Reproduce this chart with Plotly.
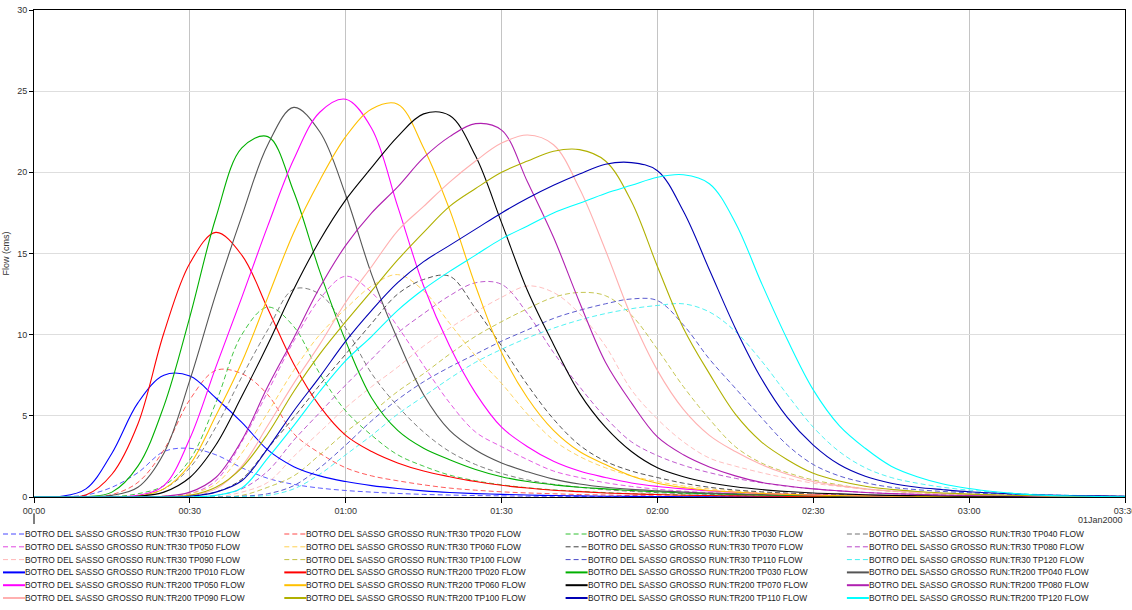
import pandas as pd
import plotly.graph_objects as go

# Time axis: 5-minute steps from 00:00 to 03:30 on 01 Jan 2000
times = pd.date_range("2000-01-01 00:00", periods=43, freq="5min")

storms = ["TP010", "TP020", "TP030", "TP040", "TP050", "TP060",
          "TP070", "TP080", "TP090", "TP100", "TP110", "TP120"]

# Flow (cms), return period 30 years
tr30_tp010 = [0, 0.02, 0.12, 0.6, 1.5, 2.8, 3.0, 2.6, 1.8, 1.15, 0.78, 0.55, 0.4, 0.3, 0.22, 0.16, 0.12, 0.09, 0.07, 0.05,
              0.04, 0.03, 0.02, 0.02, 0.01, 0.01, 0, 0, 0, 0, 0, 0, 0, 0, 0, 0, 0, 0, 0, 0, 0, 0, 0]
tr30_tp020 = [0, 0, 0, 0.15, 0.9, 2.9, 6.0, 7.8, 7.6, 6.3, 3.9, 2.7, 1.8, 1.3, 1.0, 0.75, 0.55, 0.42, 0.32, 0.25,
              0.2, 0.15, 0.12, 0.09, 0.07, 0.05, 0.04, 0.03, 0.02, 0.02, 0.01, 0.01, 0, 0, 0, 0, 0, 0, 0, 0, 0, 0, 0]
tr30_tp030 = [0, 0, 0, 0.02, 0.2, 0.7, 2.3, 5.8, 10.0, 11.7, 10.5, 7.6, 5.3, 3.8, 2.6, 1.9, 1.35, 1.0, 0.75, 0.57,
              0.44, 0.35, 0.27, 0.21, 0.17, 0.13, 0.1, 0.08, 0.06, 0.05, 0.04, 0.03, 0.02, 0.02, 0.01, 0, 0, 0, 0, 0, 0, 0, 0]
tr30_tp040 = [0, 0, 0, 0, 0.05, 0.5, 1.8, 4.3, 7.4, 10.3, 12.8, 12.5, 10.4, 7.6, 5.6, 4.0, 2.8, 2.0, 1.45, 1.05,
              0.78, 0.6, 0.45, 0.35, 0.27, 0.21, 0.16, 0.12, 0.1, 0.08, 0.06, 0.05, 0.04, 0.03, 0.02, 0.02, 0.01, 0, 0, 0, 0, 0, 0]
tr30_tp050 = [0, 0, 0, 0, 0, 0.05, 0.2, 1.0, 3.4, 6.5, 9.6, 12.2, 13.6, 12.6, 10.5, 8.1, 5.8, 4.0, 3.1, 2.3,
              1.6, 1.2, 0.88, 0.65, 0.48, 0.36, 0.27, 0.2, 0.15, 0.11, 0.09, 0.07, 0.05, 0.04, 0.03, 0.02, 0.02, 0.01, 0, 0, 0, 0, 0]
tr30_tp060 = [0, 0, 0, 0, 0, 0.05, 0.2, 0.8, 2.7, 5.2, 7.8, 10.0, 11.6, 13.0, 13.7, 12.7, 10.7, 8.7, 7.0, 5.1,
              3.5, 2.5, 1.8, 1.3, 0.95, 0.68, 0.5, 0.37, 0.27, 0.2, 0.15, 0.11, 0.09, 0.07, 0.05, 0.04, 0.03, 0.02, 0.02, 0.01, 0, 0, 0]
tr30_tp070 = [0, 0, 0, 0, 0, 0, 0.1, 0.3, 1.1, 3.0, 4.9, 6.9, 8.8, 10.7, 12.5, 13.4, 13.6, 11.6, 9.3, 6.9,
              4.8, 3.2, 2.2, 1.6, 1.2, 0.85, 0.6, 0.43, 0.32, 0.24, 0.18, 0.13, 0.1, 0.07, 0.05, 0.04, 0.03, 0.02, 0.02, 0.01, 0.01, 0, 0]
tr30_tp080 = [0, 0, 0, 0, 0, 0, 0, 0.1, 0.5, 1.6, 3.5, 5.2, 6.9, 8.5, 10.1, 11.3, 12.4, 13.2, 13.1, 11.3,
              8.9, 6.8, 4.9, 3.4, 2.55, 1.95, 1.5, 1.15, 0.88, 0.66, 0.5, 0.38, 0.28, 0.21, 0.16, 0.12, 0.09, 0.07, 0.05, 0.04, 0.03, 0.02, 0.02]
tr30_tp090 = [0, 0, 0, 0, 0, 0, 0, 0, 0.3, 0.9, 2.5, 4.0, 5.5, 6.8, 8.0, 9.3, 10.4, 11.4, 12.3, 13.0,
              12.6, 11.3, 9.3, 6.6, 4.8, 3.4, 2.4, 1.9, 1.5, 1.15, 0.85, 0.65, 0.48, 0.36, 0.27, 0.2, 0.15, 0.11, 0.09, 0.07, 0.05, 0.04, 0.03]
tr30_tp100 = [0, 0, 0, 0, 0, 0, 0, 0, 0.1, 0.6, 1.3, 2.6, 4.0, 5.2, 6.5, 7.6, 8.8, 9.9, 10.8, 11.6,
              12.3, 12.6, 12.4, 11.2, 9.1, 6.8, 4.8, 3.1, 2.1, 1.5, 1.05, 0.75, 0.5, 0.36, 0.26, 0.19, 0.14, 0.1, 0.07, 0.05, 0.04, 0.03, 0.02]
tr30_tp110 = [0, 0, 0, 0, 0, 0, 0, 0, 0.05, 0.2, 0.7, 1.8, 3.2, 4.7, 6.0, 7.1, 8.0, 8.8, 9.6, 10.3,
              11.0, 11.5, 11.9, 12.2, 12.1, 10.6, 8.5, 6.7, 4.9, 3.2, 2.0, 1.3, 0.88, 0.6, 0.45, 0.34, 0.26, 0.19, 0.14, 0.1, 0.08, 0.06, 0.05]
tr30_tp120 = [0, 0, 0, 0, 0, 0, 0, 0, 0.03, 0.1, 0.5, 1.4, 2.6, 3.8, 5.1, 6.2, 7.3, 8.3, 9.1, 9.8,
              10.4, 10.9, 11.3, 11.6, 11.8, 11.9, 11.4, 10.2, 8.4, 6.3, 4.3, 2.8, 1.8, 1.2, 0.85, 0.6, 0.42, 0.3, 0.2, 0.14, 0.1, 0.07, 0.05]

# Flow (cms), return period 200 years
tr200_tp010 = [0, 0.03, 0.5, 2.7, 5.8, 7.5, 7.45, 6.1, 4.6, 2.9, 1.87, 1.3, 0.95, 0.7, 0.52, 0.38, 0.28, 0.21, 0.16, 0.12,
               0.09, 0.07, 0.05, 0.04, 0.03, 0.02, 0.02, 0.01, 0.01, 0.01, 0, 0, 0, 0, 0, 0, 0, 0, 0, 0, 0, 0, 0]
tr200_tp020 = [0, 0, 0.12, 1.4, 4.5, 10.1, 14.4, 16.3, 14.9, 11.6, 8.2, 5.6, 3.8, 2.8, 2.1, 1.6, 1.25, 0.95, 0.72, 0.55,
               0.42, 0.33, 0.25, 0.19, 0.15, 0.11, 0.09, 0.07, 0.05, 0.04, 0.03, 0.02, 0.02, 0.01, 0.01, 0, 0, 0, 0, 0, 0, 0, 0]
tr200_tp030 = [0, 0, 0.02, 0.3, 1.9, 5.6, 11.1, 17.2, 21.5, 22.2, 18.8, 13.9, 9.6, 6.1, 4.1, 3.0, 2.3, 1.7, 1.25, 0.95,
               0.75, 0.6, 0.5, 0.4, 0.32, 0.25, 0.2, 0.16, 0.13, 0.1, 0.08, 0.06, 0.05, 0.04, 0.03, 0.02, 0.02, 0.01, 0.01, 0, 0, 0, 0]
tr200_tp040 = [0, 0, 0, 0.1, 0.6, 2.7, 7.2, 12.5, 17.3, 21.7, 24.0, 22.5, 18.6, 13.7, 9.7, 6.3, 4.1, 2.9, 2.1, 1.55,
               1.1, 0.8, 0.6, 0.47, 0.38, 0.3, 0.24, 0.19, 0.15, 0.12, 0.1, 0.08, 0.06, 0.05, 0.04, 0.03, 0.02, 0.02, 0.01, 0.01, 0, 0, 0]
tr200_tp050 = [0, 0, 0, 0, 0.1, 0.7, 3.6, 8.0, 12.3, 16.7, 20.8, 23.7, 24.5, 22.7, 17.9, 13.0, 9.3, 6.4, 4.3, 3.1,
               2.2, 1.6, 1.2, 0.86, 0.65, 0.5, 0.38, 0.29, 0.22, 0.17, 0.13, 0.1, 0.08, 0.06, 0.05, 0.04, 0.03, 0.02, 0.02, 0.01, 0.01, 0, 0]
tr200_tp060 = [0, 0, 0, 0, 0.05, 0.5, 2.0, 5.0, 8.3, 12.3, 16.3, 19.5, 22.2, 23.9, 24.2, 21.5, 17.7, 13.0, 8.9, 6.1,
               4.1, 2.8, 2.0, 1.3, 0.85, 0.58, 0.4, 0.3, 0.22, 0.16, 0.12, 0.09, 0.07, 0.05, 0.04, 0.03, 0.02, 0.02, 0.01, 0.01, 0, 0, 0]
tr200_tp070 = [0, 0, 0, 0, 0.05, 0.3, 1.2, 3.2, 6.2, 9.4, 12.8, 15.8, 18.3, 20.3, 22.2, 23.6, 23.5, 21.0, 16.9, 12.7,
               9.4, 6.4, 4.3, 2.8, 1.8, 1.25, 0.88, 0.63, 0.46, 0.34, 0.25, 0.19, 0.14, 0.1, 0.08, 0.06, 0.05, 0.04, 0.03, 0.02, 0.02, 0.01, 0.01]
tr200_tp080 = [0, 0, 0, 0, 0, 0.05, 0.3, 1.2, 3.5, 6.8, 9.8, 12.9, 15.5, 17.5, 19.1, 20.9, 22.2, 23.0, 22.6, 19.4,
               16.0, 12.0, 8.3, 5.8, 3.7, 2.6, 1.85, 1.3, 0.9, 0.68, 0.5, 0.38, 0.28, 0.21, 0.16, 0.12, 0.1, 0.08, 0.06, 0.05, 0.04, 0.03, 0.02]
tr200_tp090 = [0, 0, 0, 0, 0, 0, 0.1, 0.5, 1.9, 4.4, 7.0, 9.4, 12.0, 14.2, 16.4, 17.9, 19.4, 20.7, 21.8, 22.3,
               21.7, 19.0, 15.2, 11.1, 7.8, 5.4, 3.8, 2.8, 2.0, 1.4, 0.95, 0.7, 0.5, 0.37, 0.28, 0.2, 0.16, 0.12, 0.09, 0.07, 0.05, 0.04, 0.03]
tr200_tp100 = [0, 0, 0, 0, 0, 0, 0.1, 0.6, 1.8, 3.9, 6.5, 8.8, 10.8, 12.7, 14.6, 16.3, 17.9, 19.0, 20.0, 20.7,
               21.3, 21.4, 20.7, 18.2, 14.2, 10.4, 7.6, 5.1, 3.4, 2.3, 1.46, 0.98, 0.66, 0.47, 0.34, 0.25, 0.18, 0.13, 0.09, 0.07, 0.05, 0.04, 0.03]
tr200_tp110 = [0, 0, 0, 0, 0, 0, 0.05, 0.3, 1.0, 3.0, 5.3, 7.4, 9.6, 11.5, 13.2, 14.5, 15.5, 16.5, 17.5, 18.4,
               19.2, 19.9, 20.5, 20.6, 20.1, 17.6, 14.0, 10.4, 7.3, 4.9, 3.2, 2.0, 1.28, 0.85, 0.6, 0.45, 0.32, 0.24, 0.17, 0.12, 0.09, 0.07, 0.05]
tr200_tp120 = [0, 0, 0, 0, 0, 0, 0, 0.1, 0.55, 2.4, 4.4, 6.5, 8.4, 9.9, 11.5, 12.8, 13.9, 14.9, 15.9, 16.7,
               17.5, 18.1, 18.7, 19.2, 19.7, 19.85, 19.3, 16.9, 13.2, 9.7, 6.6, 4.4, 3.0, 1.9, 1.25, 0.8, 0.52, 0.32, 0.18, 0.1, 0.06, 0.03, 0.02]

tr30 = [tr30_tp010, tr30_tp020, tr30_tp030, tr30_tp040, tr30_tp050, tr30_tp060,
        tr30_tp070, tr30_tp080, tr30_tp090, tr30_tp100, tr30_tp110, tr30_tp120]
tr200 = [tr200_tp010, tr200_tp020, tr200_tp030, tr200_tp040, tr200_tp050, tr200_tp060,
         tr200_tp070, tr200_tp080, tr200_tp090, tr200_tp100, tr200_tp110, tr200_tp120]

solid_colors = ["#0000ff", "#ff0000", "#00b000", "#555555", "#ff00ff", "#ffc000",
                "#000000", "#b020b0", "#ffb0b0", "#b0b000", "#0000b4", "#00ffff"]
dash_colors = ["#4848ff", "#ff4848", "#30c030", "#707070", "#e048e0", "#ffd050",
               "#404040", "#b848c8", "#ffb8b8", "#c0c040", "#4848c8", "#40f0f0"]

# Page geometry (px)
W, H = 1132, 610
ML, MR, MT, MB = 34, 7, 10, 113
PW, PH = W - ML - MR, H - MT - MB


def paper_x(px):
    return (px - ML) / PW


def paper_y(py):
    return (H - MB - py) / PH


FONT = "Liberation Sans, Arial, sans-serif"

series = []
for tp, vals, col in zip(storms, tr30, dash_colors):
    series.append((f"BOTRO DEL SASSO GROSSO RUN:TR30 {tp} FLOW", vals, col, "5px,3px", 0.9))
for tp, vals, col in zip(storms, tr200, solid_colors):
    series.append((f"BOTRO DEL SASSO GROSSO RUN:TR200 {tp} FLOW", vals, col, "solid", 1.1))

fig = go.Figure()
for name, vals, col, dash, lw in series:
    fig.add_trace(go.Scatter(
        x=times, y=vals, name=name, mode="lines",
        line=dict(color=col, width=lw, dash=dash, shape="spline", smoothing=1.0),
        showlegend=False,
    ))

# Legend block: 4 columns x 6 rows below the axis
shapes = []
annotations = []
for i, (name, vals, col, dash, lw) in enumerate(series):
    row, c = divmod(i, 4)
    x0 = 3 + c * 281.3
    yc = 534 + row * 12.8
    shapes.append(dict(type="line", xref="paper", yref="paper",
                       x0=paper_x(x0), x1=paper_x(x0 + 22),
                       y0=paper_y(yc), y1=paper_y(yc),
                       line=dict(color=col, width=2 if dash == "solid" else 1, dash=dash)))
    annotations.append(dict(xref="paper", yref="paper", x=paper_x(x0 + 22), y=paper_y(yc),
                            xanchor="left", yanchor="middle", text=name, showarrow=False,
                            borderpad=0, borderwidth=0,
                            font=dict(family=FONT, size=8.4, color="#222222")))

# Day marker under the time axis
shapes.append(dict(type="line", xref="paper", yref="paper",
                   x0=0, x1=0, y0=paper_y(514), y1=paper_y(524),
                   line=dict(color="#000000", width=1)))
annotations.append(dict(xref="paper", yref="paper", x=paper_x(1100), y=paper_y(520),
                        xanchor="center", yanchor="middle", text="01Jan2000", showarrow=False,
                        font=dict(family=FONT, size=9, color="#333333")))

fig.update_layout(
    width=W, height=H,
    margin=dict(l=ML, r=MR, t=MT, b=MB, pad=0, autoexpand=False),
    paper_bgcolor="white", plot_bgcolor="white",
    font=dict(family=FONT, size=9, color="#333333"),
    shapes=shapes, annotations=annotations,
    showlegend=False,
)
fig.update_xaxes(
    type="date", automargin=False,
    range=["2000-01-01 00:00", "2000-01-01 03:30"],
    dtick=30 * 60 * 1000, tick0="2000-01-01 00:00", tickformat="%H:%M",
    ticks="outside", ticklen=5, tickcolor="#000000",
    showgrid=True, gridcolor="#c4c4c4", gridwidth=1,
    showline=True, linecolor="#000000", linewidth=1, mirror=True,
    ticklabeloverflow="allow", zeroline=False,
    tickfont=dict(family=FONT, size=9, color="#333333"),
)
fig.update_yaxes(
    automargin=False,
    range=[0, 30], dtick=5, tick0=0,
    ticks="outside", ticklen=4, tickcolor="#000000",
    showgrid=True, gridcolor="#dedede", gridwidth=1,
    showline=True, linecolor="#000000", linewidth=1, mirror=True,
    zeroline=False,
    tickfont=dict(family=FONT, size=9, color="#333333"),
    title=dict(text="Flow (cms)", standoff=6, font=dict(family=FONT, size=9, color="#333333")),
)

fig.write_html("out.html")
